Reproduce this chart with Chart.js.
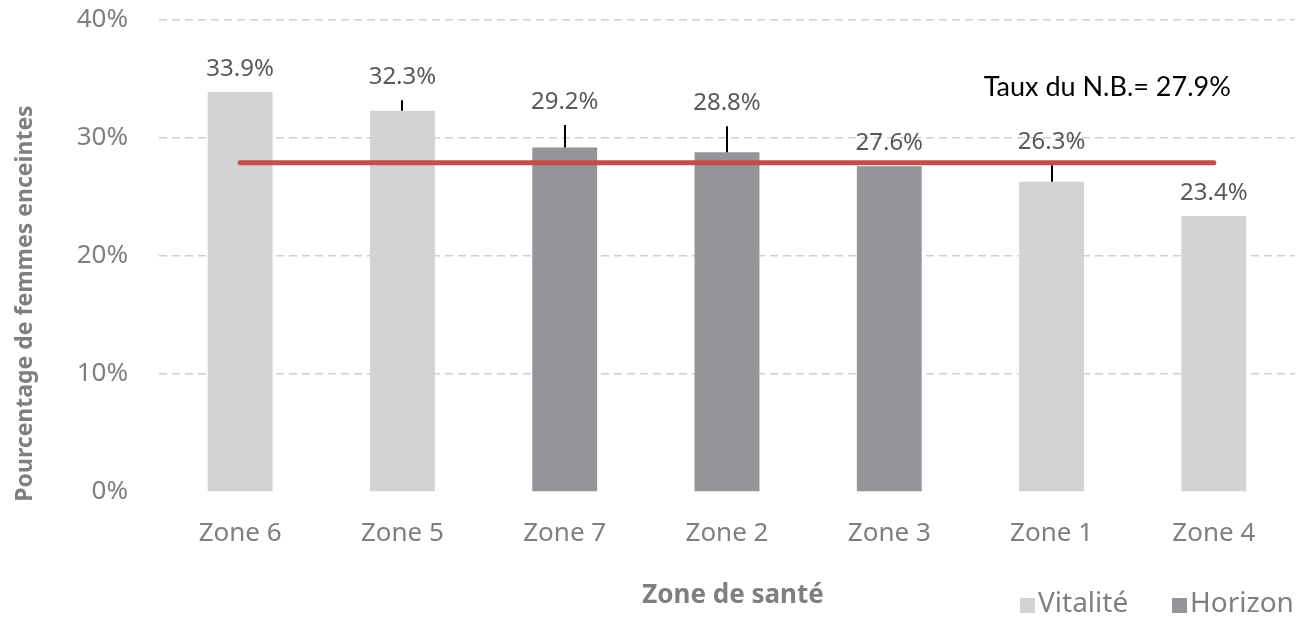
<!DOCTYPE html>
<html><head><meta charset="utf-8">
<script src="https://cdn.jsdelivr.net/npm/chart.js@4.4.0/dist/chart.umd.min.js"></script>
<style>html,body{margin:0;padding:0;background:#fff}#wrap{width:1312px;height:619px}</style>
</head><body><div id="wrap"><canvas id="c" width="1312" height="619"></canvas></div>
<script>
const zones = ['Zone 6','Zone 5','Zone 7','Zone 2','Zone 3','Zone 1','Zone 4'];
const vitalite = [33.9, 32.3, null, null, null, 26.3, 23.4];
const horizon = [null, null, 29.2, 28.8, 27.6, null, null];
const upperError = [0, 0.9, 1.9, 2.2, 0, 1.4, 0];
const provincialLine = [27.9, 27.9, 27.9, 27.9, 27.9, 27.9, 27.9];
const rateLabel = 'Taux du N.B.= 27.9%';
const yTicks = [0, 10, 20, 30, 40];
const xTitle = 'Zone de santé';
const yTitle = 'Pourcentage de femmes enceintes';
const seriesNames = ['Vitalité', 'Horizon'];

const COL_V = '#D3D3D5', COL_H = '#939598', COL_LINE = '#C0504D';
const GRAY = '#7f7f7f';
const FONT = '"Noto Sans", "Open Sans", sans-serif';

const whiskers = {
  id: 'whiskers',
  afterDatasetDraw(chart, args) {
    if (args.meta.type !== 'bar') return;
    const ds = chart.data.datasets[args.index];
    const ctx = chart.ctx, y = chart.scales.y;
    ctx.save(); ctx.strokeStyle = '#000'; ctx.lineWidth = 2;
    args.meta.data.forEach((bar, i) => {
      const v = ds.data[i];
      if (v == null || !upperError[i]) return;
      const x = Math.round(bar.x);
      ctx.beginPath();
      ctx.moveTo(x, y.getPixelForValue(v));
      ctx.lineTo(x, y.getPixelForValue(v + upperError[i]));
      ctx.stroke();
    });
    ctx.restore();
  }
};

const labels = {
  id: 'labels',
  afterDatasetsDraw(chart) {
    const ctx = chart.ctx, y = chart.scales.y, xs = chart.scales.x;
    ctx.save();
    ctx.font = '24px ' + FONT; ctx.fillStyle = '#595959';
    ctx.textAlign = 'center'; ctx.textBaseline = 'middle';
    zones.forEach((z, i) => {
      const v = vitalite[i] != null ? vitalite[i] : horizon[i];
      if (v == null) return;
      ctx.fillText(v.toFixed(1) + '%', xs.getPixelForValue(i), y.getPixelForValue(v + upperError[i]) - 23);
    });
    ctx.font = '27px Lato'; ctx.fillStyle = '#000'; ctx.textAlign = 'right';
    ctx.fillText(rateLabel, xs.getPixelForValue(zones.length - 1) + 17, y.getPixelForValue(provincialLine[0]) - 75);
    ctx.restore();
  },
  afterDraw(chart) {
    const ctx = chart.ctx;
    ctx.save();
    ctx.fillStyle = GRAY; ctx.font = 'bold 23px ' + FONT;
    ctx.textAlign = 'center'; ctx.textBaseline = 'middle';
    ctx.translate(25, chart.height / 2 - 6); ctx.rotate(-Math.PI / 2);
    ctx.fillText(yTitle, 0, 0);
    ctx.setTransform(1, 0, 0, 1, 0, 0);
    const ca = chart.chartArea;
    ctx.font = 'bold 26px ' + FONT;
    ctx.fillText(xTitle, (ca.left + ca.right) / 2 + 6, 596);
    ctx.font = '28px ' + FONT; ctx.textAlign = 'left';
    const items = [[seriesNames[0], COL_V, 1020], [seriesNames[1], COL_H, 1172]];
    items.forEach(([t, c, x]) => {
      ctx.fillStyle = c; ctx.fillRect(x, 598, 15, 15);
      ctx.fillStyle = GRAY; ctx.fillText(t, x + 18, 604);
    });
    ctx.restore();
  }
};

function build() {
  new Chart(document.getElementById('c'), {
    data: {
      labels: zones,
      datasets: [
        { type: 'line', label: 'N.B.', data: provincialLine, borderColor: COL_LINE, borderWidth: 5,
          pointRadius: 0, borderCapStyle: 'round', order: 0 },
        { type: 'bar', label: seriesNames[0], data: vitalite, backgroundColor: COL_V, grouped: false,
          barPercentage: 0.4, categoryPercentage: 1, order: 1 },
        { type: 'bar', label: seriesNames[1], data: horizon, backgroundColor: COL_H, grouped: false,
          barPercentage: 0.4, categoryPercentage: 1, order: 1 }
      ]
    },
    options: {
      responsive: false, animation: false,
      layout: { padding: { top: 20, right: 17, left: 0, bottom: 0 } },
      plugins: { legend: { display: false }, tooltip: { enabled: false } },
      scales: {
        x: {
          grid: { display: false, drawTicks: false }, border: { display: false },
          ticks: { font: { family: FONT, size: 26 }, color: GRAY, padding: 26, maxRotation: 0 },
          afterFit(s) { s.height = 127; }
        },
        y: {
          min: 0, max: 40,
          grid: { color: c => c.tick && c.tick.value === 0 ? 'rgba(0,0,0,0)' : '#cfcfcf', lineWidth: 1.5, drawTicks: false },
          border: { display: false, dash: [8, 5] },
          ticks: { font: { family: FONT, size: 26 }, color: GRAY, padding: 31, callback: v => v + '%' },
          afterBuildTicks(s) { s.ticks = yTicks.map(v => ({ value: v })); },
          afterFit(s) { s.width = 159; s.paddingTop = 0; s.paddingBottom = 0; }
        }
      }
    },
    plugins: [whiskers, labels]
  });
}
Promise.all([
  document.fonts.load('26px "Noto Sans"'),
  document.fonts.load('bold 25px "Noto Sans"'),
  document.fonts.load('27px Lato')
]).then(build, build);
</script>
</body></html>
